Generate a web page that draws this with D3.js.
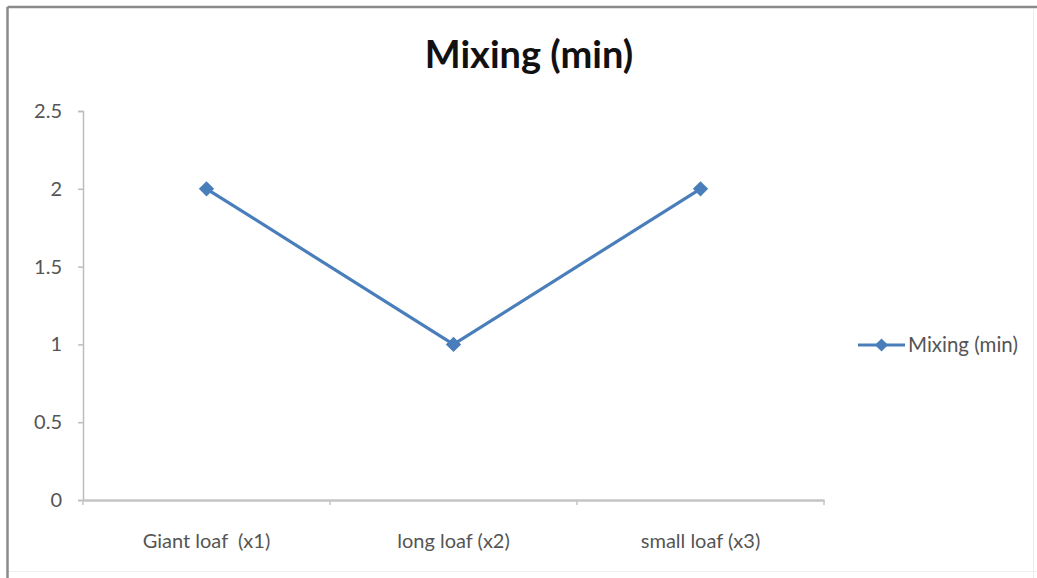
<!DOCTYPE html>
<html>
<head>
<meta charset="utf-8">
<script src="https://cdn.jsdelivr.net/npm/d3@7"></script>
<style>
  html, body { margin: 0; padding: 0; background: #fff; }
  svg { display: block; }
</style>
</head>
<body>
<svg id="chart" width="1037" height="578"></svg>
<script>
// Mixing time per loaf type
const categories = ["Giant loaf  (x1)", "long loaf (x2)", "small loaf (x3)"];
const mixingMinutes = [2, 1, 2];
const yTicks = [0, 0.5, 1, 1.5, 2, 2.5];
const seriesName = "Mixing (min)";
const chartTitle = "Mixing (min)";

const svg = d3.select("#chart");
const W = 1037, H = 578;
const font = "Lato, 'Open Sans', 'Liberation Sans', sans-serif";
const blue = "#4A7EBB";

// outer frame: strong top/left edge, faint right/bottom edge
svg.append("line").attr("x1", 7.5).attr("x2", W).attr("y1", 7).attr("y2", 7)
  .attr("stroke", "#8a8a8a").attr("stroke-width", 2.5);
svg.append("line").attr("x1", 7.5).attr("x2", 7.5).attr("y1", 7).attr("y2", H)
  .attr("stroke", "#8a8a8a").attr("stroke-width", 2.5);
svg.append("line").attr("x1", 1033.5).attr("x2", 1033.5).attr("y1", 9).attr("y2", H)
  .attr("stroke", "#ececec").attr("stroke-width", 1);
svg.append("line").attr("x1", 9).attr("x2", W).attr("y1", 571.5).attr("y2", 571.5)
  .attr("stroke", "#f0f0f0").attr("stroke-width", 1);

const plot = { left: 83, right: 824, top: 111, bottom: 500 };

const x = d3.scaleBand().domain(categories).range([plot.left, plot.right]).padding(0);
const y = d3.scaleLinear().domain([0, 2.5]).range([plot.bottom, plot.top]);

// y axis
const yAxis = svg.append("g").attr("transform", `translate(${plot.left},0)`)
  .call(d3.axisLeft(y).tickValues(yTicks).tickFormat(d3.format("")).tickSize(5).tickPadding(8));
yAxis.select(".domain").attr("stroke", "#bdbdbd").attr("stroke-width", 1.5);
yAxis.selectAll(".tick line").attr("stroke", "#bdbdbd").attr("stroke-width", 1.5);
yAxis.selectAll(".tick text").attr("font-family", font).attr("font-size", 20).attr("fill", "#555")
  .attr("dx", -8);

// x axis
const xAxis = svg.append("g").attr("transform", `translate(0,${plot.bottom})`)
  .call(d3.axisBottom(x).tickSize(0).tickPadding(34));
xAxis.select(".domain").attr("stroke", "#c4c4c4").attr("stroke-width", 2.5);
xAxis.selectAll(".tick text").attr("font-family", font).attr("font-size", 20).attr("fill", "#555")
  .style("white-space", "pre").attr("xml:space", "preserve");
// category boundary ticks
const bounds = categories.map(c => x(c)).concat([plot.right]);
svg.append("g").selectAll("line").data(bounds).join("line")
  .attr("x1", d => d).attr("x2", d => d)
  .attr("y1", plot.bottom).attr("y2", plot.bottom + 5)
  .attr("stroke", "#c4c4c4").attr("stroke-width", 1.5);

// series line
const cx = d => x(d) + x.bandwidth() / 2;
const pts = categories.map((c, i) => [cx(c), y(mixingMinutes[i])]);
svg.append("path").datum(pts)
  .attr("d", d3.line())
  .attr("fill", "none").attr("stroke", blue).attr("stroke-width", 3.2)
  .attr("stroke-linejoin", "round");

const diamond = d3.symbol().type(d3.symbolDiamond2).size(150);
svg.append("g").selectAll("path").data(pts).join("path")
  .attr("d", diamond)
  .attr("transform", d => `translate(${d[0]},${d[1]})`)
  .attr("fill", blue);

// title
svg.append("text").attr("x", 529).attr("y", 68).attr("text-anchor", "middle")
  .attr("font-family", font).attr("font-weight", "bold").attr("font-size", 38)
  .attr("fill", "#111").text(chartTitle);

// legend
const lg = svg.append("g").attr("transform", "translate(858,345)");
lg.append("line").attr("x1", 0).attr("x2", 47).attr("y1", 0).attr("y2", 0)
  .attr("stroke", blue).attr("stroke-width", 3.2);
lg.append("path").attr("d", d3.symbol().type(d3.symbolDiamond2).size(110))
  .attr("transform", "translate(23.5,0)").attr("fill", blue);
lg.append("text").attr("x", 50).attr("y", 7)
  .attr("font-family", font).attr("font-size", 20.5).attr("fill", "#555").text(seriesName);
</script>
</body>
</html>
